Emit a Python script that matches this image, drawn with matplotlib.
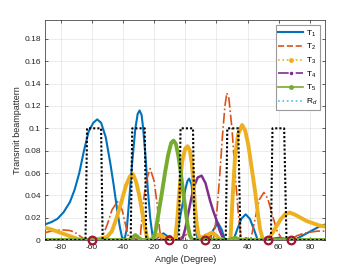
import matplotlib
matplotlib.use("Agg")
import matplotlib.pyplot as plt
from matplotlib.lines import Line2D

# ---------------- data ----------------
t1_ang = [-90,-86,-82,-78,-74,-71,-68,-65,-62,-59,-56.5,-54,-51,-48,-46,-44,-42,-40.5,-39,
          -37.5,-36,-34,-32,-30.5,-29.3,-28,-27,-25.5,-24,-22.5,-21,-20,-17,-14,-11,-8,
          -6,-4,-2,0,1.5,2.5,4,5.5,7,8,12,15.5,18,21,23.5,25.5,28,31,33.5,36,38.8,41.5,44,46.5,
          50,55,60,65,70,74,78,82,86,90]
t1_val = [0.014,0.016,0.019,0.025,0.034,0.045,0.060,0.080,0.097,0.105,0.108,0.105,0.092,0.068,0.050,0.030,0.012,0.002,0.000,
          0.010,0.035,0.070,0.100,0.113,0.116,0.112,0.100,0.075,0.045,0.020,0.004,0.000,0.003,0.006,0.003,0.000,
          0.000,0.015,0.030,0.045,0.053,0.055,0.050,0.032,0.010,0.000,0.002,0.000,0.009,0.0156,0.009,0.000,0.000,0.000,0.010,0.019,0.023,0.019,0.010,0.000,
          0.000,0.001,0.002,0.001,0.000,0.003,0.006,0.009,0.012,0.014]

t2_ang = [-90,-86,-82,-78,-74,-71,-68,-65,-63,-60,-57,-54,-50,-47,-43.5,-40.5,-38,-36,-32,-29,-27,-25,-22.5,
          -20,-18,-16.5,-15.5,-13,-10,-7,-5,-2,1,4,7,10,13,16,18,20,22,24,25.5,26.7,28,30,32,34,35.5,36.5,
          39,42,45,47.5,50.5,53,56,59,62,64,68,72,76,80,85,90]
t2_val = [0.0066,0.008,0.0088,0.009,0.0085,0.007,0.004,0.001,0.000,0.000,0.002,0.000,0.014,0.027,0.0345,0.027,0.012,0.000,0.001,0.000,0.033,0.053,0.064,
          0.053,0.032,0.010,0.000,0.002,0.004,0.002,0.000,0.003,0.005,0.002,0.000,0.003,0.005,0.003,0.000,0.020,0.055,0.095,0.120,0.1317,0.127,0.100,0.060,0.025,0.005,0.000,
          0.002,0.000,0.020,0.036,0.0426,0.037,0.022,0.008,0.001,0.000,0.001,0.004,0.006,0.007,0.008,0.008]

t3_ang = [-90,-86,-82,-78,-74,-71,-68,-65,-60,-56,-52,-50,-47,-44,-41,-38,-35.5,-33.5,-31.5,-29.5,-27.7,-26,-24.5,-23,
          -20,-17,-14,-11,-6.5,-5,-4,-2,0,1.5,3,4.3,5.3,6.4,7.5,8.5,9.5,12,17,20,22,25,27.7,29,30.5,32,34,36.5,38.5,40.5,
          42.5,44.8,46.5,48,49.5,51,53,55,58,61,64,67,70,74,78,82,86,90]
t3_val = [0.011,0.0095,0.0075,0.0055,0.0035,0.002,0.0005,0.000,0.000,0.001,0.002,0.003,0.008,0.020,0.034,0.049,0.057,0.059,0.052,0.040,0.026,0.012,0.002,0.000,
          0.002,0.005,0.003,0.000,0.000,0.020,0.040,0.070,0.082,0.084,0.080,0.068,0.050,0.028,0.013,0.005,0.001,0.003,0.0066,0.004,0.001,0.000,0.000,0.000,0.040,0.075,0.095,0.103,0.098,0.085,
          0.066,0.044,0.025,0.010,0.002,0.000,0.000,0.004,0.011,0.018,0.023,0.0246,0.023,0.020,0.017,0.015,0.013,0.012]

t4_ang = [-90,-38,-35,-32,-14,-12,-10,-2,0,2,4,6,8,10.5,13,16,18,20.3,22,23.5,25,90]
t4_val = [0.000,0.000,0.001,0.000,0.000,0.002,0.000,0.000,0.010,0.024,0.038,0.049,0.056,0.0576,0.051,0.035,0.026,0.017,0.009,0.004,0.000,0.000]

t5_ang = [-90,-36,-32,-28,-21,-19,-17,-15,-13,-11,-9,-7.5,-6,-4.5,-3,-1.5,0,1.5,3,4.5,28,32,36,90]
t5_val = [0.000,0.000,0.0045,0.000,0.000,0.008,0.025,0.042,0.060,0.076,0.087,0.089,0.086,0.076,0.062,0.045,0.029,0.014,0.004,0.000,0.000,0.002,0.000,0.000]

rd_ang = [-90,90]
rd_val = [0.0,0.0]

box_ang = [-90,-64,-63,-54,-53,-35,-34,-26,-25,-4,-3,5,6,26,27,34,35.5,55,56,63.5,65,90]
box_val = [0,0,0.1,0.1,0,0,0.1,0.1,0,0,0.1,0.1,0,0,0.1,0.1,0,0,0.1,0.1,0,0]

null_ang = [-60,-10.5,13,53,68]
null_val = [0,0,0,0,0]

labels = ['T$_1$','T$_2$','T$_3$','T$_4$','T$_5$','R$_d$']
xticks = [-80,-60,-40,-20,0,20,40,60,80]
yticks = [0,0.02,0.04,0.06,0.08,0.1,0.12,0.14,0.16,0.18]

# ---------------- style ----------------
plt.rcParams['font.family'] = ['Liberation Sans', 'DejaVu Sans']
plt.rcParams['axes.unicode_minus'] = False
plt.rcParams['mathtext.fontset'] = 'custom'
plt.rcParams['mathtext.rm'] = 'Liberation Sans'
plt.rcParams['mathtext.it'] = 'Liberation Sans:italic'

c1, c2, c3, c4, c5, c6 = '#0072BD', '#D95319', '#EDB120', '#7E2F8E', '#77AC30', '#4DBEEE'
cn = '#A2142F'

fig = plt.figure(figsize=(3.6, 2.7), dpi=100)
ax = fig.add_axes([0.125, 0.111, 0.779, 0.815])

ax.plot(t1_ang, t1_val, color=c1, lw=1.5, zorder=3)
ax.plot(t2_ang, t2_val, color=c2, lw=1.2, ls='-.', zorder=3)
ax.plot(t3_ang, t3_val, color=c3, lw=2.8, zorder=4)
ax.plot(t4_ang, t4_val, color=c4, lw=1.8, zorder=3)
ax.plot(t5_ang, t5_val, color=c5, lw=2.8, zorder=4)
ax.plot(rd_ang, rd_val, color=c6, lw=1.2, ls=':', zorder=4)
ax.plot(box_ang, box_val, color='black', lw=1.5, ls=(0, (1, 1)), zorder=5)
ax.plot(null_ang, null_val, ls='none', marker='o', ms=5.5, mfc='none', mec=cn, mew=1.6,
        zorder=6, clip_on=False)

ax.set_xlim(-90, 90)
ax.set_ylim(0, 0.197)
ax.set_xticks(xticks)
ax.set_yticks(yticks)
ax.set_yticklabels(['0','0.02','0.04','0.06','0.08','0.1','0.12','0.14','0.16','0.18'])
ax.tick_params(direction='in', length=2.5, width=0.5, labelsize=6, colors='#262626',
               top=True, right=True, pad=3)
ax.grid(True, color='#262626', alpha=0.12, lw=0.5)
ax.set_axisbelow(True)
for s in ax.spines.values():
    s.set_linewidth(0.5)
    s.set_color('#262626')
ax.set_xlabel('Angle (Degree)', fontsize=6.5, color='#262626', labelpad=2.5)
ax.set_ylabel('Transmit beampattern', fontsize=6.5, color='#262626', labelpad=2)

handles = [
    Line2D([], [], color=c1, lw=1.5),
    Line2D([], [], color=c2, lw=1.2, ls='--'),
    Line2D([], [], color=c3, lw=1.2, ls=':', marker='o', ms=2.5),
    Line2D([], [], color=c4, lw=1.2, ls='-.', marker='o', ms=1.5),
    Line2D([], [], color=c5, lw=1.2, marker='o', ms=2.5),
    Line2D([], [], color=c6, lw=1.2, ls=':'),
]
leg = ax.legend(handles, labels, loc='upper right', fontsize=6, numpoints=1,
                handlelength=3.0, handletextpad=0.25, labelspacing=0.42,
                borderaxespad=0.65, borderpad=0.35, fancybox=False, framealpha=1)
leg.get_frame().set_edgecolor('#9a9a9a')
leg.get_frame().set_linewidth(0.8)

fig.savefig('out.png', dpi=100)
